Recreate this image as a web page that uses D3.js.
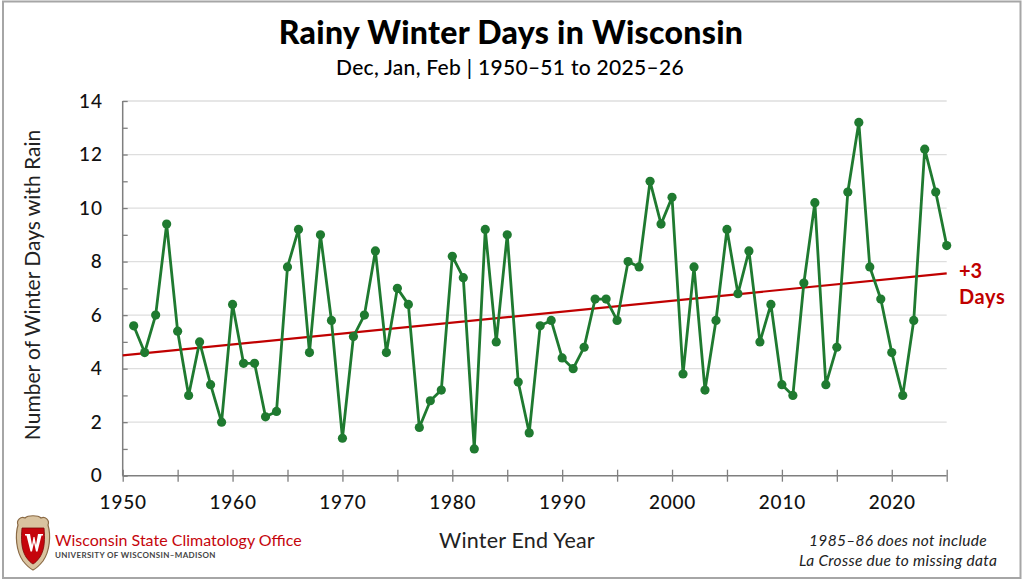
<!DOCTYPE html>
<html>
<head>
<meta charset="utf-8">
<script src="https://cdn.jsdelivr.net/npm/d3@7"></script>
<style>
  html, body { margin: 0; padding: 0; background: #fff; }
  svg { display: block; }
</style>
</head>
<body>
<svg id="chart" width="1024" height="581"></svg>
<script>
// ---- data ----
const years = [1951,1952,1953,1954,1955,1956,1957,1958,1959,1960,
  1961,1962,1963,1964,1965,1966,1967,1968,1969,1970,
  1971,1972,1973,1974,1975,1976,1977,1978,1979,1980,
  1981,1982,1983,1984,1985,1986,1987,1988,1989,1990,
  1991,1992,1993,1994,1995,1996,1997,1998,1999,2000,
  2001,2002,2003,2004,2005,2006,2007,2008,2009,2010,
  2011,2012,2013,2014,2015,2016,2017,2018,2019,2020,
  2021,2022,2023,2024,2025];
const rainyDays = [5.6,4.6,6.0,9.4,5.4,3.0,5.0,3.4,2.0,6.4,
  4.2,4.2,2.2,2.4,7.8,9.2,4.6,9.0,5.8,1.4,
  5.2,6.0,8.4,4.6,7.0,6.4,1.8,2.8,3.2,8.2,
  7.4,1.0,9.2,5.0,9.0,3.5,1.6,5.6,5.8,4.4,
  4.0,4.8,6.6,6.6,5.8,8.0,7.8,11.0,9.4,10.4,
  3.8,7.8,3.2,5.8,9.2,6.8,8.4,5.0,6.4,3.4,
  3.0,7.2,10.2,3.4,4.8,10.6,13.2,7.8,6.6,4.6,
  3.0,5.8,12.2,10.6,8.6];
const xTicks = [1950,1955,1960,1965,1970,1975,1980,1985,1990,1995,2000,2005,2010,2015,2020,2025];
const yTicks = [0,1,2,3,4,5,6,7,8,9,10,11,12,13,14];
const yGrid = [2,4,6,8,10,12,14];
const xDomain = [1950, 2025];
const yDomain = [0, 14];

const titleText = "Rainy Winter Days in Wisconsin";
const subtitleText = "Dec, Jan, Feb | 1950–51 to 2025–26";
const yLabel = "Number of Winter Days with Rain";
const xLabel = "Winter End Year";
const trendLabel = ["+3", "Days"];
const noteLines = ["1985–86 does not include", "La Crosse due to missing data"];

(function () {
// ---- layout ----
const svg = d3.select("#chart");
const pL = 122.7, pR = 946.7, pT = 101, pB = 475.7;
const font = "Lato, 'Noto Sans', sans-serif";
const green = "#1f7a30", red = "#c00000";

// frame
svg.append("rect").attr("x", 3).attr("y", 1.5).attr("width", 1017.5).attr("height", 576.5)
  .attr("fill", "#fff").attr("stroke", "#a6a6a6").attr("stroke-width", 2);

const x = d3.scaleLinear().domain(xDomain).range([pL, pR]);
const y = d3.scaleLinear().domain(yDomain).range([pB, pT]);

// grid
svg.append("g").selectAll("line").data(yGrid).join("line")
  .attr("x1", pL).attr("x2", pR)
  .attr("y1", d => y(d)).attr("y2", d => y(d))
  .attr("stroke", "#dedede").attr("stroke-width", 1.3);

// y axis
const yAxis = svg.append("g").attr("transform", `translate(${pL},0)`)
  .call(d3.axisLeft(y).tickValues(yTicks).tickSize(-5).tickPadding(20)
    .tickFormat(d => d % 2 === 0 ? d : ""));
yAxis.select(".domain").attr("stroke", "#7f7f7f").attr("stroke-width", 1.5).attr("d", `M0,${pB}V${pT}`);
yAxis.selectAll(".tick line").attr("stroke", "#7f7f7f").attr("stroke-width", 1.3);
yAxis.selectAll(".tick text").attr("font-family", font).attr("font-size", 19)
  .attr("font-weight", 500).attr("fill", "#111").attr("letter-spacing", 0.8);

// x axis
const xAxis = svg.append("g").attr("transform", `translate(0,${pB})`)
  .call(d3.axisBottom(x).tickValues(xTicks).tickSize(6).tickPadding(14)
    .tickFormat(d => d % 10 === 0 ? d : ""));
xAxis.select(".domain").attr("stroke", "#7f7f7f").attr("stroke-width", 1.5).attr("d", `M${pL},0H${pR}`);
xAxis.selectAll(".tick line").attr("y1", -6).attr("y2", 6).attr("stroke", "#7f7f7f").attr("stroke-width", 1.3);
xAxis.selectAll(".tick text").attr("font-family", font).attr("font-size", 19)
  .attr("font-weight", 500).attr("fill", "#111").attr("letter-spacing", 0.8);

// trend line (least squares)
const n = years.length;
const mx = d3.mean(years), my = d3.mean(rainyDays);
let sxy = 0, sxx = 0;
for (let i = 0; i < n; i++) { sxy += (years[i]-mx)*(rainyDays[i]-my); sxx += (years[i]-mx)**2; }
const slope = sxy / sxx, icpt = my - slope * mx;
svg.append("line")
  .attr("x1", x(xDomain[0])).attr("y1", y(icpt + slope * xDomain[0]))
  .attr("x2", x(xDomain[1])).attr("y2", y(icpt + slope * xDomain[1]))
  .attr("stroke", red).attr("stroke-width", 2.2);

// data line
const pts = years.map((yr, i) => [yr, rainyDays[i]]);
svg.append("path").datum(pts)
  .attr("d", d3.line().x(d => x(d[0])).y(d => y(d[1])))
  .attr("fill", "none").attr("stroke", green).attr("stroke-width", 2.8).attr("stroke-linejoin", "round");
svg.append("g").selectAll("circle").data(pts).join("circle")
  .attr("cx", d => x(d[0])).attr("cy", d => y(d[1])).attr("r", 4.6).attr("fill", green);

// trend label
svg.append("text").attr("x", 959).attr("y", 278).text(trendLabel[0])
  .attr("font-family", font).attr("font-weight", 700).attr("font-size", 20).attr("fill", red);
svg.append("text").attr("x", 959).attr("y", 304).text(trendLabel[1])
  .attr("font-family", font).attr("font-weight", 700).attr("font-size", 20).attr("fill", red).attr("letter-spacing", 0.6);

// titles
svg.append("text").attr("x", 511).attr("y", 44).attr("text-anchor", "middle").text(titleText)
  .attr("font-family", font).attr("font-weight", 900).attr("font-size", 32).attr("fill", "#000").attr("letter-spacing", 0.3);
svg.append("text").attr("x", 510).attr("y", 75).attr("text-anchor", "middle").text(subtitleText)
  .attr("font-family", font).attr("font-weight", 500).attr("font-size", 21).attr("fill", "#000").attr("letter-spacing", 0.3);

// axis labels
svg.append("text").attr("transform", `translate(40,285) rotate(-90)`).attr("text-anchor", "middle")
  .text(yLabel).attr("font-family", font).attr("font-size", 21).attr("font-weight", 400).attr("fill", "#222");
svg.append("text").attr("x", 517).attr("y", 548).attr("text-anchor", "middle")
  .text(xLabel).attr("font-family", font).attr("font-size", 21.5).attr("font-weight", 400).attr("fill", "#222").attr("letter-spacing", 0.2);

// note
noteLines.forEach((t, i) => {
  svg.append("text").attr("x", 898).attr("y", 546 + i * 20).attr("text-anchor", "middle").text(t)
    .attr("font-family", font).attr("font-style", "italic").attr("font-size", 15.5).attr("fill", "#222").attr("letter-spacing", 0.3);
});

// logo
const logo = svg.append("g").attr("transform", "translate(33,543)");
logo.append("path")
  .attr("d", "M-15,-18 C-17,-23 -12,-27 -8,-25 C-5,-28 5,-28 8,-25 C12,-27 17,-23 15,-18 C18,-8 17,8 10,18 C6,23 2,26 0,27 C-2,26 -6,23 -10,18 C-17,8 -18,-8 -15,-18 Z")
  .attr("fill", "#d9c3a0").attr("stroke", "#8a6a45").attr("stroke-width", 1.2);
logo.append("path")
  .attr("d", "M-11,-15 L11,-15 C12,-5 12,6 7,14 C4,18 2,20 0,21 C-2,20 -4,18 -7,14 C-12,6 -12,-5 -11,-15 Z")
  .attr("fill", "#c5050c").attr("stroke", "#7a0a0a").attr("stroke-width", 0.8);
logo.append("path")
  .attr("d", "M-8,-9 h5 l2,11 l1.5,-8 h1 l1.5,8 l2,-11 h5 v1.5 h-1.5 l-4,16 h-1.5 l-2,-9 l-2,9 h-1.5 l-4,-16 h-1.5 Z")
  .attr("fill", "#fff");
svg.append("text").attr("x", 55).attr("y", 546).text("Wisconsin State Climatology Office")
  .attr("font-family", font).attr("font-size", 16).attr("font-weight", 400).attr("fill", "#c5050c");
svg.append("text").attr("x", 55).attr("y", 557.5).text("UNIVERSITY OF WISCONSIN–MADISON")
  .attr("font-family", font).attr("font-size", 8).attr("font-weight", 700).attr("fill", "#444").attr("letter-spacing", 0.35);
})();
</script>
</body>
</html>
